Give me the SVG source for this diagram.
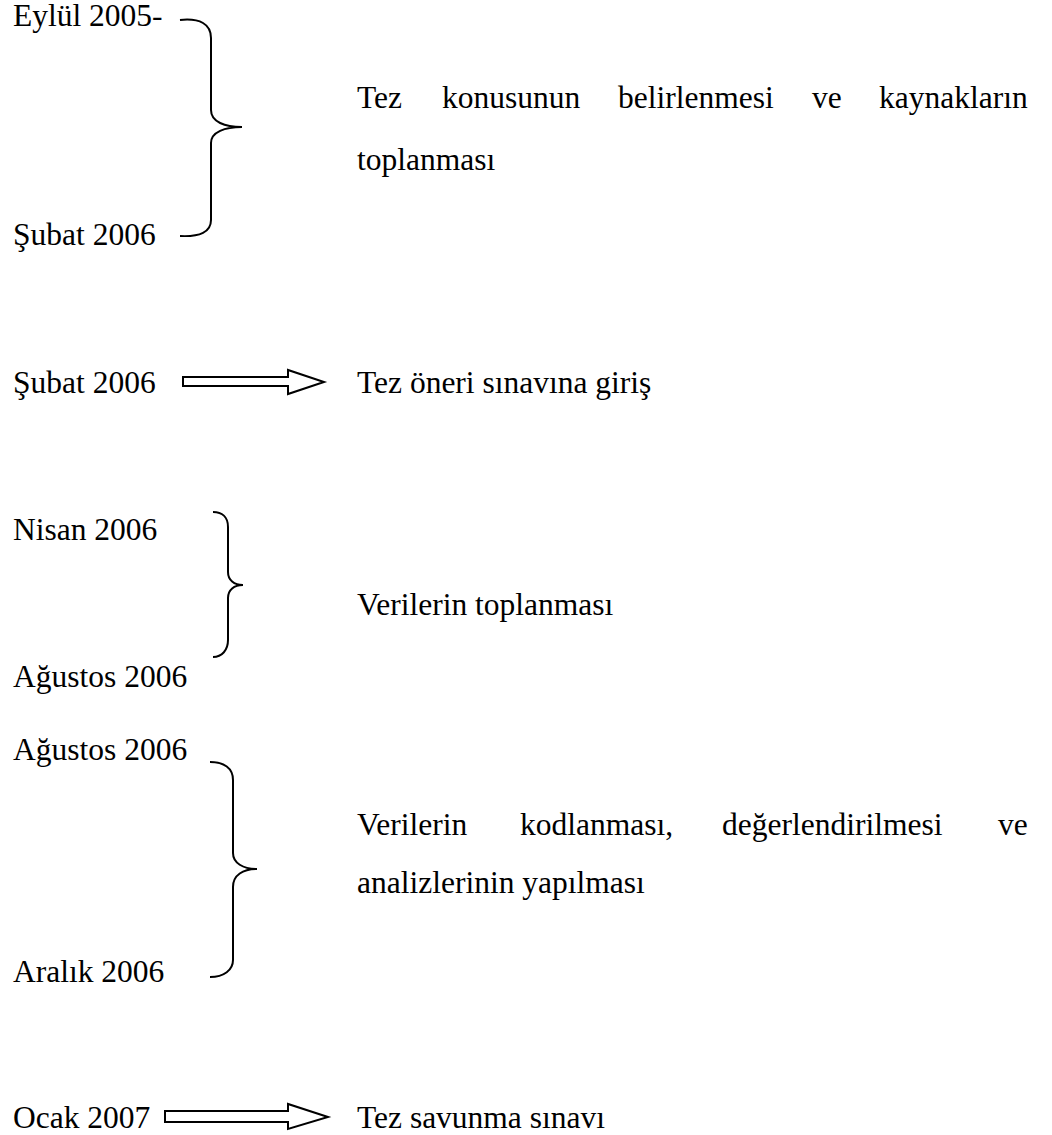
<svg xmlns="http://www.w3.org/2000/svg" width="1052" height="1135" viewBox="0 0 1052 1135">
<style>
text{font-family:"Liberation Serif","Times New Roman",serif;font-size:31.5px;fill:#000}
.br{fill:none;stroke:#000;stroke-width:2}
.ar{fill:#fff;stroke:#000;stroke-width:2;stroke-linejoin:miter}
</style>
<rect width="1052" height="1135" fill="#fff"/>
<g id="connectors">
<path class="br" d="M180,20 C200,18 211,24 211,38 L211,110 C211,122 225,127 242,127 C225,127 211,132 211,143 L211,220 C211,232 200,237 180,236"/>
<path class="ar" d="M183,377 L288,377 L288,370 L324,382 L288,394 L288,386 L183,386 Z"/>
<path class="br" d="M213,512 C222,512 228,517 228,527 L228,572 C228,580 234,585 243,585 C234,585 228,590 228,598 L228,640 C228,650 222,657 213,657"/>
<path class="br" d="M210,762 C224,762 233,768 233,780 L233,853 C233,863 243,869 257,869 C243,869 233,875 233,887 L233,960 C233,970 224,977 210,977"/>
<path class="ar" d="M165,1111 L288,1111 L288,1104 L328,1117 L288,1129 L288,1122 L165,1122 Z"/>
</g>
<g id="n1"><text x="13" y="26">Eylül 2005-</text></g>
<g id="n2"><text x="13" y="245">Şubat 2006</text></g>
<g id="n3"><text y="108"><tspan x="357">Tez</tspan><tspan x="442">konusunun</tspan><tspan x="618">belirlenmesi</tspan><tspan x="812">ve</tspan><tspan x="879">kaynakların</tspan></text><text x="357" y="170">toplanması</text></g>
<g id="n4"><text x="13" y="393">Şubat 2006</text></g>
<g id="n5"><text x="357" y="393">Tez öneri sınavına giriş</text></g>
<g id="n6"><text x="13" y="540">Nisan 2006</text></g>
<g id="n7"><text x="13" y="687">Ağustos 2006</text></g>
<g id="n8"><text x="357" y="615">Verilerin toplanması</text></g>
<g id="n9"><text x="13" y="760">Ağustos 2006</text></g>
<g id="n10"><text x="13" y="982">Aralık 2006</text></g>
<g id="n11"><text y="835"><tspan x="357">Verilerin</tspan><tspan x="520">kodlanması,</tspan><tspan x="722">değerlendirilmesi</tspan><tspan x="998">ve</tspan></text><text x="357" y="893">analizlerinin yapılması</text></g>
<g id="n12"><text x="13" y="1128">Ocak 2007</text></g>
<g id="n13"><text x="357" y="1128">Tez savunma sınavı</text></g>
</svg>
